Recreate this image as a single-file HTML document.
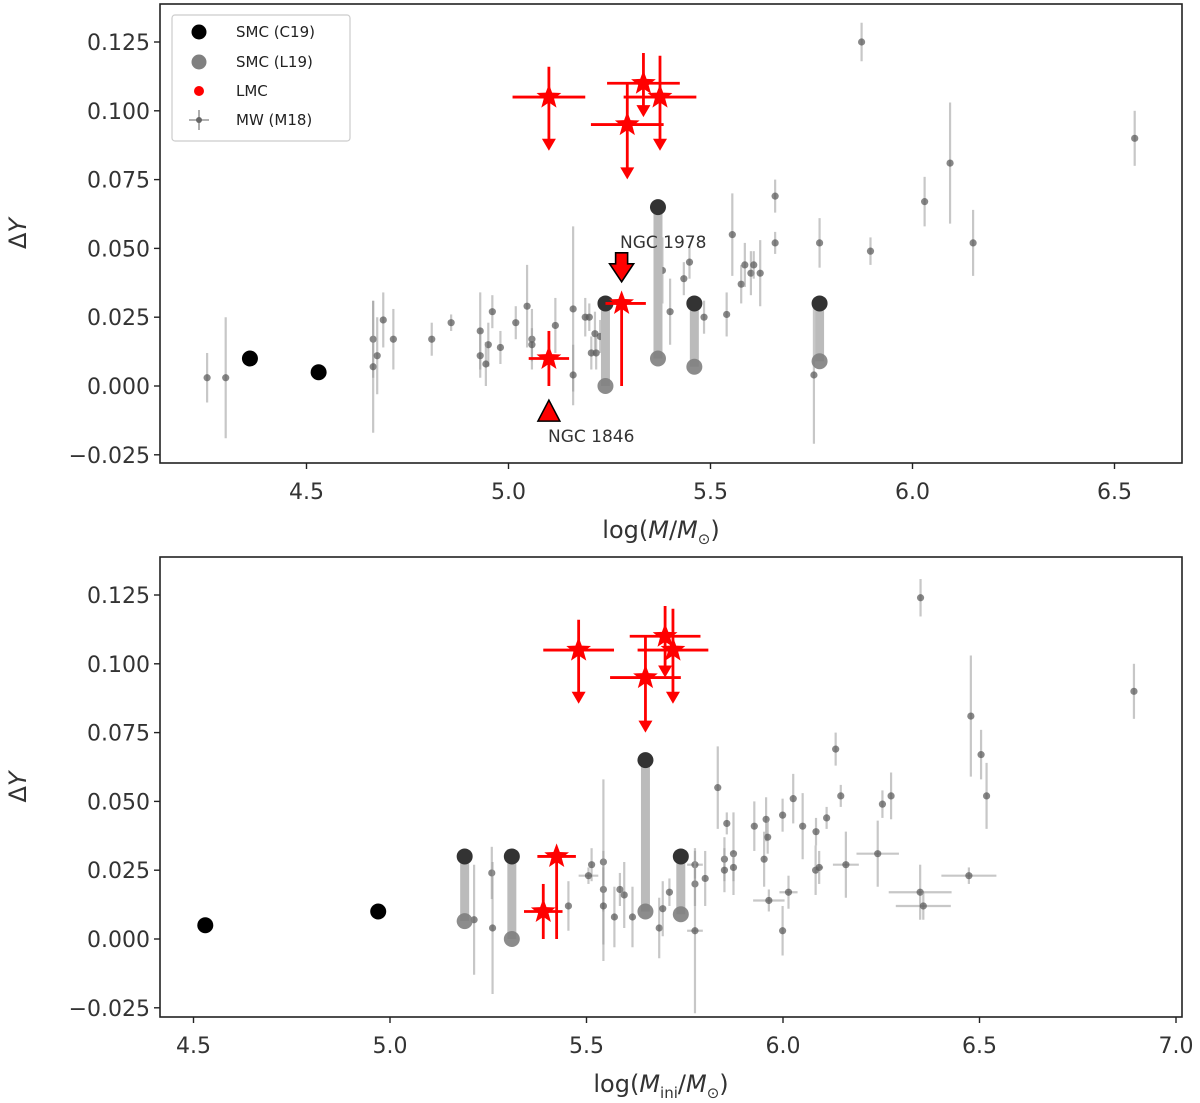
<!DOCTYPE html>
<html><head><meta charset="utf-8">
<style>
html,body{margin:0;padding:0;background:#fff;}
svg{display:block;font-family:"DejaVu Sans","Liberation Sans",sans-serif;}
</style></head>
<body>
<svg id="chart" width="1200" height="1103" viewBox="0 0 1200 1103" xmlns="http://www.w3.org/2000/svg">
<rect x="0" y="0" width="1200" height="1103" fill="#fff"/>
<g id="top"></g>
<g id="bot"></g>
<g id="legend">
  <rect x="172" y="15" width="178" height="126" rx="3" fill="#fff" stroke="#ccc" stroke-width="1.2"/>
  <circle cx="199" cy="32" r="7.5" fill="#000"/>
  <text x="236" y="37" font-size="15" fill="#222">SMC (C19)</text>
  <circle cx="199" cy="62" r="7.5" fill="#808080"/>
  <text x="236" y="67" font-size="15" fill="#222">SMC (L19)</text>
  <circle cx="199" cy="91" r="5" fill="#f00"/>
  <text x="236" y="96" font-size="15" fill="#222">LMC</text>
  <line x1="189" y1="120" x2="209" y2="120" stroke="#999" stroke-width="1.6"/>
  <line x1="199" y1="110" x2="199" y2="130" stroke="#999" stroke-width="1.6"/>
  <circle cx="199" cy="120" r="3" fill="#666"/>
  <text x="236" y="125" font-size="15" fill="#222">MW (M18)</text>
</g>
</svg>
<script>
// ---------- data ----------
const yTicks = [-0.025, 0, 0.025, 0.05, 0.075, 0.1, 0.125];
const yTickLabels = ["\u22120.025","0.000","0.025","0.050","0.075","0.100","0.125"];
const xTicksTop = [4.5, 5.0, 5.5, 6.0, 6.5];
const xTickLabelsTop = ["4.5","5.0","5.5","6.0","6.5"];
const xTicksBot = [4.5, 5.0, 5.5, 6.0, 6.5, 7.0];
const xTickLabelsBot = ["4.5","5.0","5.5","6.0","6.5","7.0"];

// SMC C19 isolated points
const smcSoloTopX = [4.36, 4.53];
const smcSoloTopY = [0.010, 0.005];
const smcSoloBotX = [4.53, 4.97];
const smcSoloBotY = [0.005, 0.010];
// SMC pairs (C19 top / L19 bottom)
const smcPairTopX = [5.24, 5.37, 5.46, 5.77];
const smcPairBotX = [5.19, 5.31, 5.65, 5.74];
const smcC19PairY = [0.030, 0.065, 0.030, 0.030];
const smcC19PairYBot = [0.030, 0.030, 0.065, 0.030];
const smcL19PairY = [0.000, 0.010, 0.007, 0.009];
const smcL19PairYBot = [0.0065, 0.000, 0.010, 0.009];

// LMC upper limits
const lmcLimTopX = [5.10, 5.334, 5.375, 5.294];
const lmcLimBotX = [5.48, 5.70, 5.72, 5.65];
const lmcLimY = [0.105, 0.110, 0.105, 0.095];
const lmcLimXErr = [0.09, 0.09, 0.09, 0.09];
const lmcLimUp = [0.011, 0.011, 0.015, 0.015];
const lmcLimArrowTop = [0.0855, 0.0977, 0.0855, 0.0751];
const lmcLimArrowBot = [0.0855, 0.095, 0.0855, 0.075];
// LMC measured (NGC 1846, NGC 1978)
const lmcTopX = [5.10, 5.28];
const lmcBotX = [5.39, 5.424];
const lmcY = [0.010, 0.030];
const lmcYErrLo = [0.010, 0.030];
const lmcYErrHi = [0.010, 0.001];
const lmcXErrLoTop = [0.05, 0.04];
const lmcXErrHiTop = [0.05, 0.06];
const lmcXErrBot = [0.049, 0.049];

// MW (M18) top panel
const mwTopX = [4.254,4.30,4.665,4.665,4.675,4.69,4.715,4.81,4.858,4.93,4.93,4.95,4.96,4.944,4.98,5.018,5.046,5.058,5.058,5.116,5.16,5.16,5.19,5.205,5.214,5.20,5.227,5.217,5.381,5.40,5.434,5.448,5.484,5.54,5.554,5.576,5.585,5.60,5.607,5.623,5.66,5.66,5.756,5.77,5.874,5.896,6.03,6.093,6.15,6.55];
const mwTopY = [0.003,0.003,0.017,0.007,0.011,0.024,0.017,0.017,0.023,0.020,0.011,0.015,0.027,0.008,0.014,0.023,0.029,0.017,0.015,0.022,0.028,0.004,0.025,0.012,0.019,0.025,0.018,0.012,0.042,0.027,0.039,0.045,0.025,0.026,0.055,0.037,0.044,0.041,0.044,0.041,0.069,0.052,0.004,0.052,0.125,0.049,0.067,0.081,0.052,0.090];
const mwTopErr = [0.009,0.022,0.014,0.024,0.014,0.010,0.011,0.006,0.003,0.014,0.008,0.008,0.006,0.008,0.006,0.006,0.015,0.011,0.006,0.010,0.030,0.011,0.007,0.006,0.008,0.005,0.006,0.006,0.012,0.012,0.006,0.006,0.006,0.008,0.015,0.007,0.008,0.008,0.005,0.012,0.006,0.004,0.025,0.009,0.007,0.005,0.009,0.022,0.012,0.010];

// MW (M18) bottom panel
const mwBotX = [5.214,5.259,5.261,5.454,5.513,5.505,5.543,5.543,5.543,5.571,5.585,5.596,5.617,5.685,5.694,5.711,5.776,5.776,5.776,5.802,5.834,5.857,5.851,5.851,5.874,5.874,5.927,5.957,5.961,5.952,5.964,5.999,6.026,6.050,6.084,6.111,6.083,6.092,6.014,5.999,6.160,6.241,6.349,6.357,6.473,6.134,6.147,6.275,6.253,6.350,6.893,6.478,6.504,6.518];
const mwBotY = [0.007,0.024,0.004,0.012,0.027,0.023,0.028,0.018,0.012,0.008,0.018,0.016,0.008,0.004,0.011,0.017,0.027,0.020,0.003,0.022,0.055,0.042,0.029,0.025,0.031,0.026,0.041,0.0435,0.037,0.029,0.014,0.045,0.051,0.041,0.039,0.044,0.025,0.026,0.017,0.003,0.027,0.031,0.017,0.012,0.023,0.069,0.052,0.052,0.049,0.124,0.090,0.081,0.067,0.052];
const mwBotErr = [0.020,0.0095,0.024,0.009,0.006,0.003,0.030,0.008,0.020,0.011,0.006,0.012,0.011,0.011,0.010,0.005,0.005,0.008,0.030,0.010,0.015,0.004,0.008,0.008,0.015,0.005,0.009,0.008,0.006,0.010,0.004,0.006,0.009,0.012,0.005,0.004,0.009,0.006,0.006,0.009,0.012,0.012,0.010,0.005,0.003,0.006,0.004,0.0085,0.005,0.0068,0.010,0.022,0.009,0.012];
const mwBotXErr = [0,0,0,0,0,0.025,0,0,0,0,0,0,0,0,0,0,0.02,0,0.02,0,0,0,0,0,0,0,0,0,0,0,0.04,0,0,0,0,0,0,0.01,0.023,0,0.033,0.054,0.08,0.07,0.07,0,0,0,0,0,0,0,0,0];

// ---------- helpers ----------
const NS = "http://www.w3.org/2000/svg";
function mk(parent, tag, attrs){
  const e = document.createElementNS(NS, tag);
  for (const k in attrs) e.setAttribute(k, attrs[k]);
  parent.appendChild(e);
  return e;
}
function starPath(cx, cy, R){
  const r = R*0.42; let d = "";
  for (let i=0;i<10;i++){
    const a = -Math.PI/2 + i*Math.PI/5;
    const rr = i%2===0 ? R : r;
    d += (i?"L":"M") + (cx+rr*Math.cos(a)).toFixed(1) + " " + (cy+rr*Math.sin(a)).toFixed(1);
  }
  return d + "Z";
}
function arrowHead(g, x, y){
  const p = mk(g, "path", {d:`M${x-7} ${y-12}L${x+7} ${y-12}L${x} ${y}Z`, fill:"#f00"});
  
  
}

function drawPanel(g, box, xScale, yScale, xTicks, xLabels, xTitleHTML, cfg){
  const [L,T,R,B] = box;
  for (let i=0;i<cfg.mwX.length;i++){
    const x = xScale(cfg.mwX[i]), y = yScale(cfg.mwY[i]), e = cfg.mwE[i];
    const grp = mk(g, "g", {});
    
    
    mk(grp, "line", {x1:x, x2:x, y1:yScale(cfg.mwY[i]+e), y2:yScale(cfg.mwY[i]-e), stroke:"#999", "stroke-width":2.2, "stroke-opacity":0.55});
    const xe = cfg.mwXE ? cfg.mwXE[i] : 0;
    if (xe>0) mk(grp, "line", {x1:xScale(cfg.mwX[i]-xe), x2:xScale(cfg.mwX[i]+xe), y1:y, y2:y, stroke:"#999", "stroke-width":2.2, "stroke-opacity":0.55});
    mk(grp, "circle", {cx:x, cy:y, r:3.6, fill:"#555", "fill-opacity":0.7});
  }
  for (let i=0;i<cfg.pairX.length;i++){
    const x = xScale(cfg.pairX[i]);
    const grp = mk(g, "g", {});
    
    
    mk(grp, "line", {x1:x, x2:x, y1:yScale(cfg.pairTop[i]), y2:yScale(cfg.pairBot[i]), stroke:"#bbb", "stroke-width":9});
    mk(grp, "circle", {cx:x, cy:yScale(cfg.pairBot[i]), r:8, fill:"#808080", "fill-opacity":0.9});
    mk(grp, "circle", {cx:x, cy:yScale(cfg.pairTop[i]), r:8, fill:"#333"});
  }
  for (let i=0;i<cfg.soloX.length;i++){
    const c = mk(g, "circle", {cx:xScale(cfg.soloX[i]), cy:yScale(cfg.soloY[i]), r:8, fill:"#000"});
    
    
  }
  for (let i=0;i<cfg.limX.length;i++){
    const x = xScale(cfg.limX[i]), y = yScale(lmcLimY[i]);
    const grp = mk(g, "g", {});
    
    
    mk(grp, "line", {x1:xScale(cfg.limX[i]-lmcLimXErr[i]), x2:xScale(cfg.limX[i]+lmcLimXErr[i]), y1:y, y2:y, stroke:"#f00", "stroke-width":2.8});
    const ya = yScale(cfg.limArrow[i]);
    mk(grp, "line", {x1:x, x2:x, y1:yScale(lmcLimY[i]+lmcLimUp[i]), y2:ya-10, stroke:"#f00", "stroke-width":2.8});
    arrowHead(grp, x, ya);
    mk(grp, "path", {d:starPath(x, y, 13), fill:"#f00"});
  }
  for (let i=0;i<cfg.lmcX.length;i++){
    const x = xScale(cfg.lmcX[i]), y = yScale(lmcY[i]);
    const grp = mk(g, "g", {});
    
    
    mk(grp, "line", {x1:xScale(cfg.lmcX[i]-cfg.lmcXLo[i]), x2:xScale(cfg.lmcX[i]+cfg.lmcXHi[i]), y1:y, y2:y, stroke:"#f00", "stroke-width":2.8});
    mk(grp, "line", {x1:x, x2:x, y1:yScale(lmcY[i]+lmcYErrHi[i]), y2:yScale(lmcY[i]-lmcYErrLo[i]), stroke:"#f00", "stroke-width":2.8});
    mk(grp, "path", {d:starPath(x, y, 13), fill:"#f00"});
  }
  if (cfg.extra) cfg.extra(g);
  const fr = mk(g, "rect", {x:L, y:T, width:R-L, height:B-T, fill:"none", stroke:"#222", "stroke-width":1.6});
  
  
  for (let i=0;i<yTicks.length;i++){
    const y = yScale(yTicks[i]);
    mk(g, "line", {x1:L-6, x2:L, y1:y, y2:y, stroke:"#222", "stroke-width":1.4});
    const t = mk(g, "text", {x:L-10, y:y+8, "text-anchor":"end", "font-size":22, fill:"#333"});
    t.textContent = yTickLabels[i];
    
    
  }
  for (let i=0;i<xTicks.length;i++){
    const x = xScale(xTicks[i]);
    mk(g, "line", {x1:x, x2:x, y1:B, y2:B+6, stroke:"#222", "stroke-width":1.4});
    const t = mk(g, "text", {x:x, y:B+36, "text-anchor":"middle", "font-size":22, fill:"#333"});
    t.textContent = xLabels[i];
    
    
  }
  const yt = mk(g, "text", {x:0, y:0, transform:`translate(26 ${(T+B)/2}) rotate(-90)`, "text-anchor":"middle", "font-size":24, fill:"#333"});
  yt.innerHTML = "\u0394<tspan font-style='italic'>Y</tspan>";
  
  
  const xt = mk(g, "text", {x:(L+R)/2-10, y:B+75, "text-anchor":"middle", "font-size":24, fill:"#333"});
  xt.innerHTML = xTitleHTML;
  
  
}

const xT = v => 508.5 + (v-5)*404;
const yT = v => 386 - v*2752;
const xB = v => 390 + (v-5)*393;
const yB = v => 939 - v*2752;

drawPanel(document.getElementById("top"), [160,4,1182,463], xT, yT, xTicksTop, xTickLabelsTop,
  "log(<tspan font-style='italic'>M</tspan>/<tspan font-style='italic'>M</tspan><tspan font-size='15' dy='6'>\u2299</tspan><tspan dy='-6'>)</tspan>",
  {mwX:mwTopX, mwY:mwTopY, mwE:mwTopErr, pairX:smcPairTopX, pairTop:smcC19PairY, pairBot:smcL19PairY,
   soloX:smcSoloTopX, soloY:smcSoloTopY, limX:lmcLimTopX, limArrow:lmcLimArrowTop,
   lmcX:lmcTopX, lmcXLo:lmcXErrLoTop, lmcXHi:lmcXErrHiTop,
   extra: g => {
     const x1 = xT(lmcTopX[0]), yv = yT(-0.0095);
     const tri = mk(g, "path", {d:`M${x1-11} ${yv+9}L${x1+11} ${yv+9}L${x1} ${yv-12}Z`, fill:"#f00", stroke:"#000", "stroke-width":1.5});
     
     
     const x2 = xT(lmcTopX[1]), ya = yT(0.0415);
     const ar = mk(g, "path", {d:`M${x2-6} ${ya-19}L${x2+6} ${ya-19}L${x2+6} ${ya-8}L${x2+12} ${ya-8}L${x2} ${ya+10}L${x2-12} ${ya-8}L${x2-6} ${ya-8}Z`, fill:"#f00", stroke:"#000", "stroke-width":1.6});
     
     
     const t1 = mk(g, "text", {x:548, y:442, "font-size":17, fill:"#333"});
     t1.textContent = "NGC 1846";
     
     
     const t2 = mk(g, "text", {x:620, y:248, "font-size":17, fill:"#333"});
     t2.textContent = "NGC 1978";
     
     
   }});

drawPanel(document.getElementById("bot"), [160,557,1182,1017], xB, yB, xTicksBot, xTickLabelsBot,
  "log(<tspan font-style='italic'>M</tspan><tspan font-size='15' dy='6'>ini</tspan><tspan dy='-6'>/</tspan><tspan font-style='italic'>M</tspan><tspan font-size='15' dy='6'>\u2299</tspan><tspan dy='-6'>)</tspan>",
  {mwX:mwBotX, mwY:mwBotY, mwE:mwBotErr, mwXE:mwBotXErr, pairX:smcPairBotX, pairTop:smcC19PairYBot, pairBot:smcL19PairYBot,
   soloX:smcSoloBotX, soloY:smcSoloBotY, limX:lmcLimBotX, limArrow:lmcLimArrowBot,
   lmcX:lmcBotX, lmcXLo:lmcXErrBot, lmcXHi:lmcXErrBot});
</script>
</body></html>
